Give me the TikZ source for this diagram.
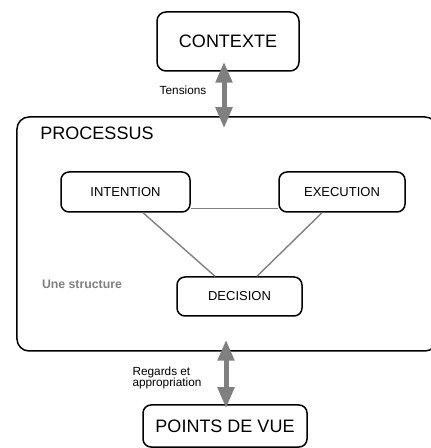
\documentclass[tikz,border=0pt]{standalone}
\usepackage{fontspec}
\setmainfont{Liberation Sans}
\usetikzlibrary{arrows.meta,calc}
\definecolor{lgray}{RGB}{128,128,128}
\tikzset{
  box/.style={draw=black, line width=1.5bp, rounded corners=8bp, inner sep=0pt},
  bigtxt/.style={font=\fontsize{18bp}{20bp}\selectfont},
  midtxt/.style={font=\fontsize{13bp}{15bp}\selectfont},
  smalltxt/.style={font=\fontsize{11.8bp}{11bp}\selectfont, align=left, inner sep=0pt},
  tri/.style={color=lgray, line width=1.4bp},
  garrow/.style={color=lgray, line width=5bp, arrows={Triangle[width=16bp,length=21bp]-Triangle[width=16bp,length=21bp]}}
}
\begin{document}
\begin{tikzpicture}[x=1bp,y=1bp]
\useasboundingbox (0,0) rectangle (430,448);
% Processus frame
\node[box, rounded corners=12bp, minimum width=420bp, minimum height=234bp] (proc) at (227,214) {};
\node[bigtxt, inner sep=0pt] (proclbl) at (97,315) {PROCESSUS};
% boxes
\node[box, rounded corners=9bp, bigtxt, minimum width=142bp, minimum height=59bp] (contexte) at (228,406.5) {CONTEXTE};
\node[box, midtxt, minimum width=129bp, minimum height=40bp] (intention) at (125.5,256) {INTENTION};
\node[box, midtxt, minimum width=126bp, minimum height=40bp] (execution) at (342,256) {EXECUTION};
\node[box, midtxt, minimum width=125bp, minimum height=39bp] (decision) at (239.5,151.5) {DECISION};
\node[box, bigtxt, minimum width=164bp, minimum height=42bp] (pdv) at (225,22) {POINTS DE VUE};
% labels
\node[font=\fontsize{12.3bp}{14bp}\selectfont\bfseries, text=lgray, inner sep=0pt] (struct) at (82,164) {Une structure};
\node[smalltxt] (tens) at (183,358) {Tensions};
\node[smalltxt] (regards) at (167,70) {Regards et\\appropriation};
% triangle
\draw[tri] ([yshift=4bp]intention.south east) -- ([yshift=4bp]execution.south west);
\draw[tri] ([xshift=17.5bp]intention.south) -- ([xshift=-24.5bp]decision.north);
\draw[tri] ([xshift=-20bp]execution.south) -- ([xshift=17.5bp]decision.north);
% arrows
\draw[garrow] ($(contexte.south)+(-4,10)$) -- ($(proc.north)+(-3,-12)$);
\draw[garrow] ($(proc.south)+(-1,12)$) -- ($(pdv.north)+(1,-4)$);
\end{tikzpicture}
\end{document}
